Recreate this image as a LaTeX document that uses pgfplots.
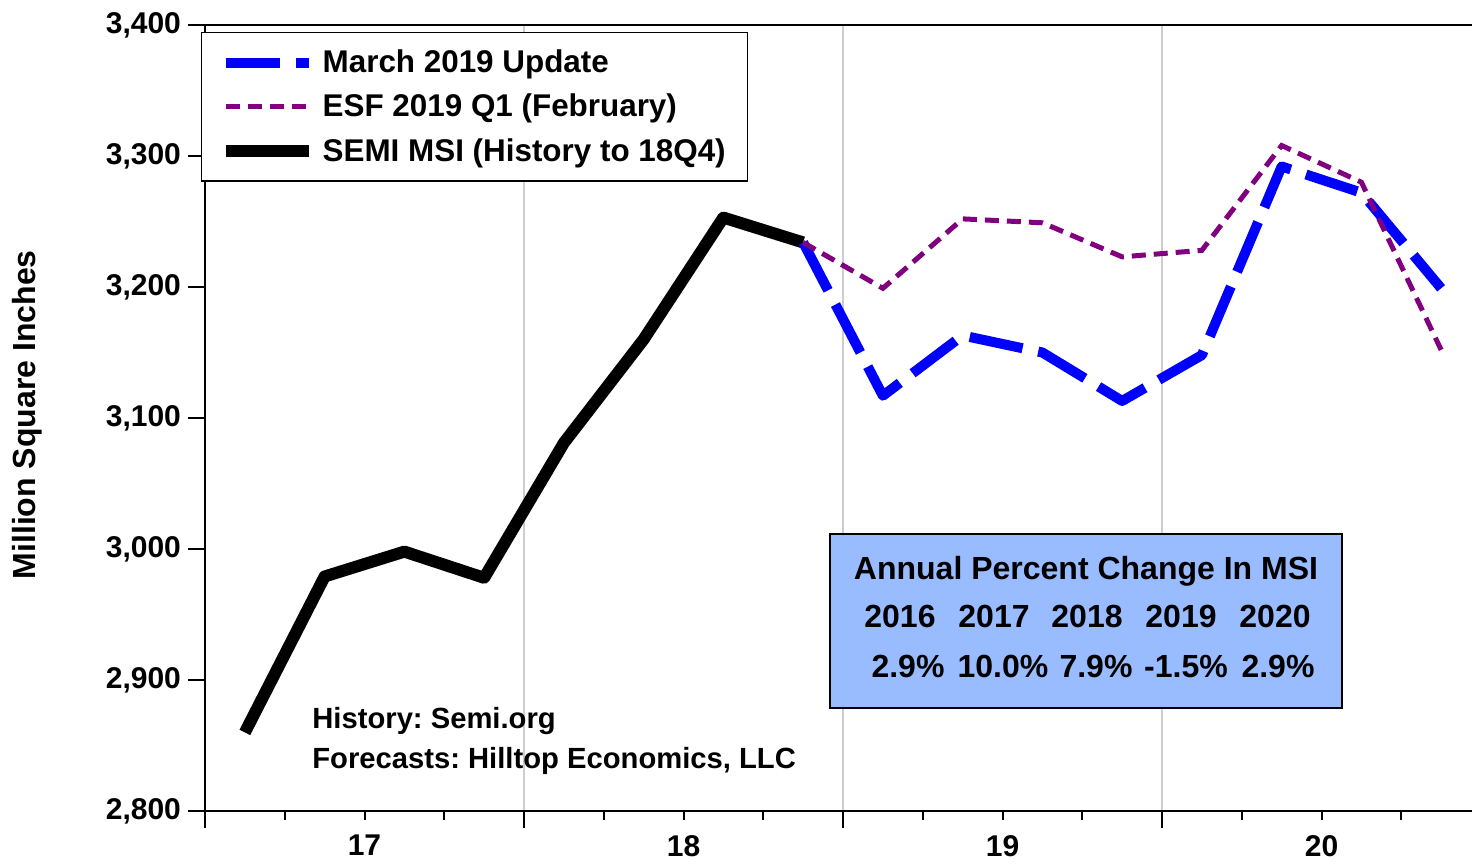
\documentclass[border=0pt]{standalone}
\usepackage{fontspec}
\setmainfont{Liberation Sans}
\usepackage{pgfplots}
\pgfplotsset{compat=1.18}
\definecolor{esf}{RGB}{128,0,128}
\definecolor{boxblue}{RGB}{153,187,255}
\definecolor{gridgray}{RGB}{205,205,205}
\frenchspacing
\begin{document}
\begin{tikzpicture}
\begin{axis}[
  at={(0,0)}, anchor=south west,
  scale only axis, width=633.5pt, height=393pt,
  xmin=0, xmax=15.887, ymin=2800, ymax=3400,
  axis x line*=bottom, axis y line*=left,
  axis line style={-, line width=1pt, black},
  tick align=outside,
  xtick={0,4,8,12}, xticklabels={,,,},
  minor xtick={1,2,3,5,6,7,9,10,11,13,14,15},
  extra x ticks={2,6,10,14}, extra x tick labels={17,18,19,20},
  extra x tick style={grid=none, tick style={draw=none}},
  ytick={2800,2900,...,3400},
  major tick length=8.5pt, minor tick length=4.5pt,
  tick style={black, line width=1pt},
  xmajorgrids, major grid style={gridgray, line width=1pt},
  /pgf/number format/assume math mode=true,
  /pgf/number format/1000 sep={,},
  tick label style={font=\fontsize{15}{18}\selectfont\bfseries},
  ylabel={Million Square Inches},
  ylabel style={at={(axis description cs:-0.1405,0.504)}, anchor=center, font=\fontsize{16}{19}\selectfont\bfseries},
  legend image code/.code={\draw[#1] (0pt,0pt) -- (41.5pt,0pt);},
  legend cell align=left,
  legend style={at={(axis description cs:-0.0032,0.9911)}, anchor=north west, draw=black, line width=0.75pt, fill=white,
    font=\fontsize{15.7}{18.5}\selectfont\bfseries, inner xsep=9pt, inner ysep=6.5pt, row sep=5.3pt, column sep=2pt},
]
\addlegendimage{blue, line width=5pt, dash pattern=on 27pt off 8pt}
\addlegendentry{March 2019 Update}
\addlegendimage{esf, line width=2.5pt, dash pattern=on 7pt off 4pt}
\addlegendentry{ESF 2019 Q1 (February)}
\addlegendimage{black, line width=6pt}
\addlegendentry{SEMI MSI (History to 18Q4)}

\addplot[forget plot, black, line width=6pt, line join=round] coordinates {
(0.5,2860) (1.5,2979) (2.5,2998) (3.5,2978) (4.5,3081) (5.5,3160) (6.5,3253) (7.5,3234)};
\addplot[forget plot, blue, line width=5pt, dash pattern=on 27pt off 8pt, line join=round] coordinates {
(7.5,3234) (8.5,3117) (9.5,3163) (10.5,3150) (11.5,3113) (12.5,3148) (13.5,3292) (14.5,3272) (15.5,3199)};
\addplot[forget plot, esf, line width=2.5pt, dash pattern=on 7pt off 4pt] coordinates {
(7.5,3234) (8.5,3199) (9.5,3252) (10.5,3249) (11.5,3223) (12.5,3228) (13.5,3308) (14.5,3280) (15.5,3152)};
\end{axis}
\draw[line width=1pt] (0,393pt) -- (633.5pt,393pt);
\draw[fill=boxblue, line width=0.75pt] (312.5pt,51.5pt) rectangle (568.5pt,138.5pt);
\begin{scope}[every node/.style={font=\fontsize{16}{19}\selectfont\bfseries, inner sep=0pt}]
\node[anchor=base] at (440.5pt,115.75pt) {Annual Percent Change In MSI};
\node[anchor=base] at (347.5pt,91.75pt) {2016};
\node[anchor=base] at (394.5pt,91.75pt) {2017};
\node[anchor=base] at (441pt,91.75pt) {2018};
\node[anchor=base] at (488pt,91.75pt) {2019};
\node[anchor=base] at (535pt,91.75pt) {2020};
\node[anchor=base] at (351.5pt,66.75pt) {2.9\%};
\node[anchor=base] at (399pt,66.75pt) {10.0\%};
\node[anchor=base] at (445.5pt,66.75pt) {7.9\%};
\node[anchor=base] at (490.5pt,66.75pt) {-1.5\%};
\node[anchor=base] at (536.5pt,66.75pt) {2.9\%};
\end{scope}
\begin{scope}[every node/.style={font=\fontsize{14.6}{17}\selectfont\bfseries, inner sep=0pt}]
\node[anchor=base west] at (53.5pt,41pt) {History: Semi.org};
\node[anchor=base west] at (53.5pt,21pt) {Forecasts: Hilltop Economics, LLC};
\end{scope}
\pgfresetboundingbox
\path[use as bounding box] (-102.5pt,-27.5pt) rectangle (633.5pt,405.5pt);
\end{tikzpicture}
\end{document}
